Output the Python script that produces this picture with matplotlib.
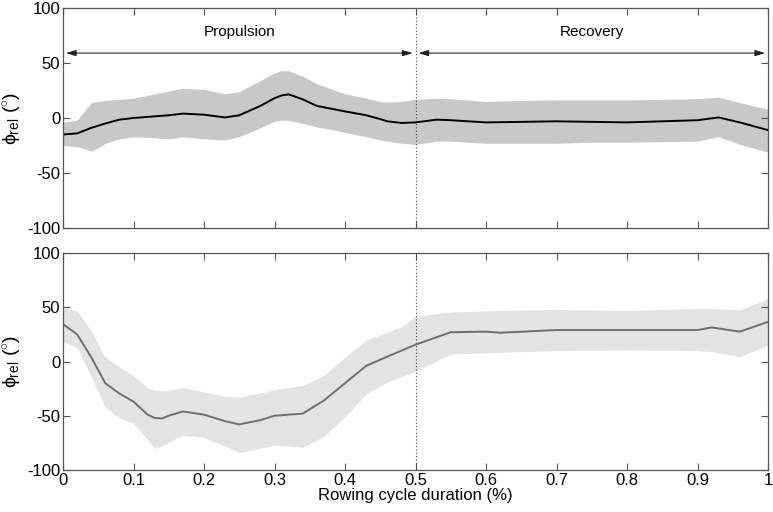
import matplotlib
matplotlib.use("Agg")
import matplotlib.pyplot as plt

plt.rcParams['font.family'] = ['Liberation Sans', 'DejaVu Sans']
plt.rcParams['mathtext.fontset'] = 'custom'
plt.rcParams['mathtext.rm'] = 'Liberation Sans'
plt.rcParams['mathtext.it'] = 'Liberation Sans'

# ---- data ----
x_top = [0, 0.02, 0.03, 0.04, 0.05, 0.06, 0.08, 0.1, 0.13, 0.15, 0.17, 0.2, 0.23, 0.25, 0.28,
         0.3, 0.31, 0.32, 0.34, 0.36, 0.4, 0.43, 0.45, 0.46, 0.48, 0.5, 0.53, 0.55, 0.6,
         0.65, 0.7, 0.75, 0.8, 0.85, 0.9, 0.93, 0.96, 1.0]
mean_top = [-15, -14, -11.5, -9, -7, -5, -1.5, 0, 1.5, 2.5, 4, 3, 0.5, 2.5, 11,
            18, 20.5, 21.5, 17, 11, 6, 2.5, -1, -3, -4.5, -4, -1.5, -2, -4,
            -3.5, -3, -3.5, -4, -3, -2, 0.5, -4, -11]
upper_top = [-4, -2, 6, 14, 15, 16, 17, 18, 22, 24.5, 27, 26, 22, 24, 34,
             41, 43, 43, 38, 31, 22, 18, 15, 14.5, 15, 17, 18, 17.5, 15,
             16, 16.5, 16.5, 16.5, 17, 17.5, 19, 14, 8]
lower_top = [-25, -26, -28, -30, -27, -23, -19, -17, -18, -19, -17, -19, -20, -17, -9,
             -3, -2, -2, -5, -8, -13, -17, -20, -21, -23, -24, -21, -21, -23,
             -23, -23, -22, -22, -21.5, -21, -17, -24, -31]

x_bot = [0, 0.02, 0.04, 0.06, 0.08, 0.1, 0.12, 0.13, 0.14, 0.15, 0.17, 0.2, 0.23, 0.25,
         0.28, 0.3, 0.34, 0.37, 0.4, 0.43, 0.46, 0.48, 0.5, 0.55, 0.6, 0.62, 0.7, 0.8,
         0.9, 0.92, 0.96, 1.0]
mean_bot = [34.5, 25, 4, -20, -29.5, -37, -49, -52, -52.5, -50, -46, -49, -55, -58,
            -54, -50, -48, -36, -20, -4, 4.5, 10, 15.5, 27, 27.5, 26.5, 29, 29,
            29, 31.4, 27.5, 36.6]
upper_bot = [50, 46.6, 28, 4, -5, -13, -24, -26.5, -27, -26.5, -24, -28, -32, -33,
             -29, -26, -22, -13, 4, 20, 27, 32, 41.5, 45.7, 46.6, 47, 48, 47,
             49, 49, 47.5, 58]
lower_bot = [17.7, 13, -14, -42, -52, -57, -72, -80, -78, -74, -68, -70, -78, -84,
             -80, -77, -79, -69, -51, -30, -19, -14, -9, 7, 8, 8.5, 10, 10.7,
             10, 9, 4.6, 15]

x_ticks = [0, 0.1, 0.2, 0.3, 0.4, 0.5, 0.6, 0.7, 0.8, 0.9, 1]
x_ticklabels = ['0', '0.1', '0.2', '0.3', '0.4', '0.5', '0.6', '0.7', '0.8', '0.9', '1']
y_ticks = [-100, -50, 0, 50, 100]
y_ticklabels = ['-100', '-50', '0', '50', '100']
phases = ['Propulsion', 'Recovery']
phase_bounds = [0, 0.5, 1.0]

W, H = 773, 512
fig = plt.figure(figsize=(W / 100, H / 100), dpi=100)

def px_axes(l, t, r, b):
    return fig.add_axes([l / W, 1 - b / H, (r - l) / W, (b - t) / H])

ax1 = px_axes(63, 8, 768, 228)
ax2 = px_axes(63, 253, 768, 470)

frame_col = '#555555'
for ax in (ax1, ax2):
    ax.set_xlim(0, 1)
    ax.set_ylim(-100, 100)
    ax.set_yticks(y_ticks)
    ax.set_yticklabels(y_ticklabels)
    ax.set_xticks(x_ticks)
    ax.tick_params(direction='in', top=True, right=True, length=5, width=0.8,
                   colors=frame_col, labelcolor='black', labelsize=12, pad=2)
    for s in ax.spines.values():
        s.set_color(frame_col)
        s.set_linewidth(0.9)
    ax.axvline(0.5, color='#444444', linestyle=(0, (1, 2)), linewidth=0.8)
    ax.set_ylabel(r'$\phi_{\rm rel}$ ($^{\circ}$)', fontsize=14, labelpad=2)

ax1.set_xticklabels([])
ax2.set_xticklabels(x_ticklabels)
ax2.set_xlabel('Rowing cycle duration (%)', fontsize=12, labelpad=0)

ax1.fill_between(x_top, lower_top, upper_top, color='#c8c8c8', linewidth=0)
ax1.plot(x_top, mean_top, color='black', linewidth=1.4)

ax2.fill_between(x_bot, lower_bot, upper_bot, color='#e3e3e3', linewidth=0)
ax2.plot(x_bot, mean_bot, color='#6e6e6e', linewidth=1.4)

for i, name in enumerate(phases):
    a, b = phase_bounds[i], phase_bounds[i + 1]
    ax1.annotate('', xy=(a + 0.004, 59), xytext=(b - 0.004, 59),
                 arrowprops=dict(arrowstyle='<|-|>,head_length=0.6,head_width=0.18',
                                 color='#222222', lw=0.8, shrinkA=0, shrinkB=0))
    ax1.text((a + b) / 2, 78, name, ha='center', va='center', fontsize=11)

fig.savefig('out.png', dpi=100)
